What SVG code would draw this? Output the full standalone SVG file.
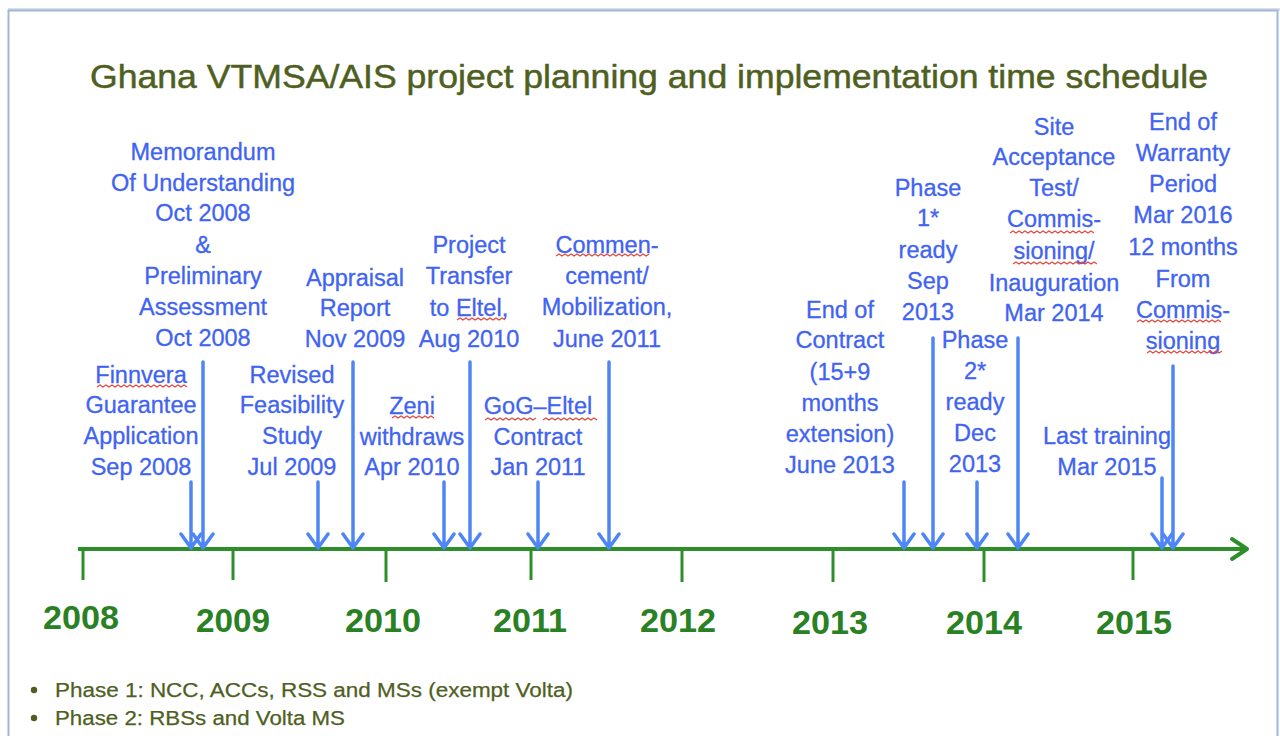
<svg xmlns="http://www.w3.org/2000/svg" width="1280" height="736" viewBox="0 0 1280 736">
  <defs>
    <style>
      .title { font-family: "Liberation Sans", Arial, sans-serif; font-size: 34px; fill: #4f5f1f; stroke: #4f5f1f; stroke-width: 0.5; }
      .lbl { font-family: "Liberation Sans", Arial, sans-serif; font-size: 23.5px; fill: #3f63f2; stroke: #3f63f2; stroke-width: 0.3; text-anchor: middle; }
      .year { font-family: "Liberation Sans", Arial, sans-serif; font-size: 34px; font-weight: bold; fill: #2a8124; text-anchor: middle; }
      .note { font-family: "Liberation Sans", Arial, sans-serif; font-size: 20px; fill: #4f5f1f; stroke: #4f5f1f; stroke-width: 0.25; }
      .axis { stroke: #2e8f2a; stroke-width: 4; fill: none; }
      .tick { stroke: #2e8f2a; stroke-width: 3; fill: none; }
      .arr { stroke: #4f86f6; stroke-width: 3.5; fill: none; stroke-linecap: round; stroke-linejoin: round; }
      .sq { stroke: #e8443a; stroke-width: 1.1; fill: none; }
    </style>
  </defs>

  <rect width="1280" height="736" fill="#ffffff"/>
  <!-- page frame -->
  <rect x="8" y="8" width="1272" height="3" fill="#d7dfe9"/>
  <rect x="8.5" y="10.5" width="1269" height="740" fill="none" stroke="#9fb6d8" stroke-width="2"/>

  <text class="title" x="90" y="88" textLength="1118" lengthAdjust="spacingAndGlyphs">Ghana VTMSA/AIS project planning and implementation time schedule</text>

  <!-- time axis -->
  <g id="axis">
    <line class="axis" x1="78" y1="549" x2="1246" y2="549"/>
    <polyline class="axis" points="1232,539 1247,549 1232,559" stroke-linecap="round" stroke-linejoin="round"/>
    <line class="tick" x1="83" y1="549" x2="83" y2="580"/>
    <line class="tick" x1="233" y1="549" x2="233" y2="580"/>
    <line class="tick" x1="386" y1="549" x2="386" y2="582"/>
    <line class="tick" x1="531" y1="549" x2="531" y2="580"/>
    <line class="tick" x1="682" y1="549" x2="682" y2="582"/>
    <line class="tick" x1="833" y1="549" x2="833" y2="582"/>
    <line class="tick" x1="984" y1="549" x2="984" y2="582"/>
    <line class="tick" x1="1133" y1="549" x2="1133" y2="580"/>
    <text class="year" x="81" y="629" textLength="76" lengthAdjust="spacingAndGlyphs">2008</text>
    <text class="year" x="233" y="632" textLength="74" lengthAdjust="spacingAndGlyphs">2009</text>
    <text class="year" x="383" y="632" textLength="76" lengthAdjust="spacingAndGlyphs">2010</text>
    <text class="year" x="530" y="632" textLength="74" lengthAdjust="spacingAndGlyphs">2011</text>
    <text class="year" x="678" y="632" textLength="76" lengthAdjust="spacingAndGlyphs">2012</text>
    <text class="year" x="830" y="634" textLength="76" lengthAdjust="spacingAndGlyphs">2013</text>
    <text class="year" x="984" y="634" textLength="76" lengthAdjust="spacingAndGlyphs">2014</text>
    <text class="year" x="1134" y="634" textLength="76" lengthAdjust="spacingAndGlyphs">2015</text>
  </g>

  <!-- milestone pointers -->
  <g id="connectors">
    <path class="arr" d="M191,482 V548 M181,534 L191,548 L201,534"/>
    <path class="arr" d="M203,362 V548 M193,534 L203,548 L213,534"/>
    <path class="arr" d="M318,482 V548 M308,534 L318,548 L328,534"/>
    <path class="arr" d="M353,362 V548 M343,534 L353,548 L363,534"/>
    <path class="arr" d="M444,482 V548 M434,534 L444,548 L454,534"/>
    <path class="arr" d="M470,362 V548 M460,534 L470,548 L480,534"/>
    <path class="arr" d="M538,482 V548 M528,534 L538,548 L548,534"/>
    <path class="arr" d="M609,362 V548 M599,534 L609,548 L619,534"/>
    <path class="arr" d="M904,482 V548 M894,534 L904,548 L914,534"/>
    <path class="arr" d="M933,338 V548 M923,534 L933,548 L943,534"/>
    <path class="arr" d="M977,482 V548 M967,534 L977,548 L987,534"/>
    <path class="arr" d="M1018,338 V548 M1008,534 L1018,548 L1028,534"/>
    <path class="arr" d="M1162,478 V548 M1152,534 L1162,548 L1172,534"/>
    <path class="arr" d="M1173,366 V548 M1163,534 L1173,548 L1183,534"/>
  </g>

  <g id="mou">
    <text class="lbl" x="203" y="160"><tspan x="203">Memorandum</tspan><tspan x="203" dy="31">Of Understanding</tspan><tspan x="203" dy="30">Oct 2008</tspan><tspan x="203" dy="32">&amp;</tspan><tspan x="203" dy="31">Preliminary</tspan><tspan x="203" dy="31">Assessment</tspan><tspan x="203" dy="31">Oct 2008</tspan></text>
  </g>
  <g id="finnvera">
    <text class="lbl" x="141" y="383"><tspan x="141">Finnvera</tspan><tspan x="141" dy="30">Guarantee</tspan><tspan x="141" dy="31">Application</tspan><tspan x="141" dy="31">Sep 2008</tspan></text>
    <path class="sq" d="M97,387 l3,-2 l3,2 l3,-2 l3,2 l3,-2 l3,2 l3,-2 l3,2 l3,-2 l3,2 l3,-2 l3,2 l3,-2 l3,2 l3,-2 l3,2 l3,-2 l3,2 l3,-2 l3,2 l3,-2 l3,2 l3,-2 l3,2 l3,-2 l3,2 l3,-2 l3,2 l3,-2 l3,2"/>
  </g>
  <g id="revised">
    <text class="lbl" x="292" y="383"><tspan x="292">Revised</tspan><tspan x="292" dy="30">Feasibility</tspan><tspan x="292" dy="31">Study</tspan><tspan x="292" dy="31">Jul 2009</tspan></text>
  </g>
  <g id="appraisal">
    <text class="lbl" x="355" y="286"><tspan x="355">Appraisal</tspan><tspan x="355" dy="30">Report</tspan><tspan x="355" dy="31">Nov 2009</tspan></text>
  </g>
  <g id="zeni">
    <text class="lbl" x="412" y="414"><tspan x="412">Zeni</tspan><tspan x="412" dy="31">withdraws</tspan><tspan x="412" dy="30">Apr 2010</tspan></text>
    <path class="sq" d="M392,418 l3,-2 l3,2 l3,-2 l3,2 l3,-2 l3,2 l3,-2 l3,2 l3,-2 l3,2 l3,-2 l3,2 l3,-2 l3,2"/>
  </g>
  <g id="transfer">
    <text class="lbl" x="469" y="253"><tspan x="469">Project</tspan><tspan x="469" dy="31">Transfer</tspan><tspan x="469" dy="32">to Eltel,</tspan><tspan x="469" dy="31">Aug 2010</tspan></text>
    <path class="sq" d="M457,320 l3,-2 l3,2 l3,-2 l3,2 l3,-2 l3,2 l3,-2 l3,2 l3,-2 l3,2 l3,-2 l3,2 l3,-2 l3,2 l3,-2 l3,2"/>
  </g>
  <g id="gog">
    <text class="lbl" x="538" y="414"><tspan x="538">GoG–Eltel</tspan><tspan x="538" dy="31">Contract</tspan><tspan x="538" dy="30">Jan 2011</tspan></text>
    <path class="sq" d="M485,420 l3,-2 l3,2 l3,-2 l3,2 l3,-2 l3,2 l3,-2 l3,2 l3,-2 l3,2 l3,-2 l3,2 l3,-2 l3,2 l3,-2 l3,2 l3,-2"/>
    <path class="sq" d="M543,420 l3,-2 l3,2 l3,-2 l3,2 l3,-2 l3,2 l3,-2 l3,2 l3,-2 l3,2 l3,-2 l3,2 l3,-2 l3,2 l3,-2 l3,2 l3,-2 l3,2"/>
  </g>
  <g id="commencement">
    <text class="lbl" x="607" y="253"><tspan x="607">Commen-</tspan><tspan x="607" dy="31">cement/</tspan><tspan x="607" dy="31">Mobilization,</tspan><tspan x="607" dy="32">June 2011</tspan></text>
    <path class="sq" d="M556,256 l3,-2 l3,2 l3,-2 l3,2 l3,-2 l3,2 l3,-2 l3,2 l3,-2 l3,2 l3,-2 l3,2 l3,-2 l3,2 l3,-2 l3,2 l3,-2 l3,2 l3,-2 l3,2 l3,-2 l3,2 l3,-2 l3,2 l3,-2 l3,2 l3,-2 l3,2 l3,-2 l3,2 l3,-2"/>
  </g>
  <g id="end-contract">
    <text class="lbl" x="840" y="318"><tspan x="840">End of</tspan><tspan x="840" dy="30">Contract</tspan><tspan x="840" dy="32">(15+9</tspan><tspan x="840" dy="31">months</tspan><tspan x="840" dy="31">extension)</tspan><tspan x="840" dy="31">June 2013</tspan></text>
  </g>
  <g id="phase1">
    <text class="lbl" x="928" y="196"><tspan x="928">Phase</tspan><tspan x="928" dy="30">1*</tspan><tspan x="928" dy="32">ready</tspan><tspan x="928" dy="31">Sep</tspan><tspan x="928" dy="31">2013</tspan></text>
  </g>
  <g id="phase2">
    <text class="lbl" x="975" y="348"><tspan x="975">Phase</tspan><tspan x="975" dy="31">2*</tspan><tspan x="975" dy="31">ready</tspan><tspan x="975" dy="31">Dec</tspan><tspan x="975" dy="31">2013</tspan></text>
  </g>
  <g id="sat">
    <text class="lbl" x="1054" y="135"><tspan x="1054">Site</tspan><tspan x="1054" dy="30">Acceptance</tspan><tspan x="1054" dy="31">Test/</tspan><tspan x="1054" dy="31">Commis-</tspan><tspan x="1054" dy="32">sioning/</tspan><tspan x="1054" dy="32">Inauguration</tspan><tspan x="1054" dy="30">Mar 2014</tspan></text>
    <path class="sq" d="M1010,233 l3,-2 l3,2 l3,-2 l3,2 l3,-2 l3,2 l3,-2 l3,2 l3,-2 l3,2 l3,-2 l3,2 l3,-2 l3,2 l3,-2 l3,2 l3,-2 l3,2 l3,-2 l3,2 l3,-2 l3,2 l3,-2 l3,2 l3,-2 l3,2 l3,-2 l3,2"/>
    <path class="sq" d="M1013,264 l3,-2 l3,2 l3,-2 l3,2 l3,-2 l3,2 l3,-2 l3,2 l3,-2 l3,2 l3,-2 l3,2 l3,-2 l3,2 l3,-2 l3,2 l3,-2 l3,2 l3,-2 l3,2 l3,-2 l3,2 l3,-2 l3,2 l3,-2 l3,2 l3,-2 l3,2"/>
  </g>
  <g id="training">
    <text class="lbl" x="1107" y="444"><tspan x="1107">Last training</tspan><tspan x="1107" dy="31">Mar 2015</tspan></text>
  </g>
  <g id="warranty">
    <text class="lbl" x="1183" y="130"><tspan x="1183">End of</tspan><tspan x="1183" dy="31">Warranty</tspan><tspan x="1183" dy="31">Period</tspan><tspan x="1183" dy="31">Mar 2016</tspan><tspan x="1183" dy="32">12 months</tspan><tspan x="1183" dy="32">From</tspan><tspan x="1183" dy="31">Commis-</tspan><tspan x="1183" dy="31">sioning</tspan></text>
    <path class="sq" d="M1137,322 l3,-2 l3,2 l3,-2 l3,2 l3,-2 l3,2 l3,-2 l3,2 l3,-2 l3,2 l3,-2 l3,2 l3,-2 l3,2 l3,-2 l3,2 l3,-2 l3,2 l3,-2 l3,2 l3,-2 l3,2 l3,-2 l3,2 l3,-2 l3,2 l3,-2 l3,2"/>
    <path class="sq" d="M1147,353 l3,-2 l3,2 l3,-2 l3,2 l3,-2 l3,2 l3,-2 l3,2 l3,-2 l3,2 l3,-2 l3,2 l3,-2 l3,2 l3,-2 l3,2 l3,-2 l3,2 l3,-2 l3,2 l3,-2 l3,2 l3,-2 l3,2 l3,-2"/>
  </g>

  <!-- phase notes -->
  <g id="notes">
    <circle cx="34" cy="690" r="3.2" fill="#4f5f1f"/>
    <circle cx="34" cy="718" r="3.2" fill="#4f5f1f"/>
    <text class="note" x="55" y="697" textLength="518" lengthAdjust="spacingAndGlyphs">Phase 1: NCC, ACCs, RSS and MSs (exempt Volta)</text>
    <text class="note" x="55" y="725" textLength="290" lengthAdjust="spacingAndGlyphs">Phase 2: RBSs and Volta MS</text>
  </g>
</svg>
